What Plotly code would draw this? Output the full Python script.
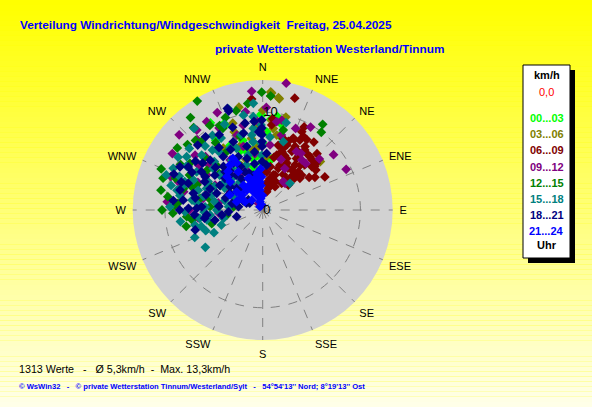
import plotly.graph_objects as go

W, H = 592, 407
def px(x): return x / W
def py(y): return 1 - y / H

# ---------------- data (direction in degrees, speed in km/h) ----------------
hour_labels = ["00...03", "03...06", "06...09", "09...12", "12...15", "15...18", "18...21", "21...24"]
hour_colors = ["#00FF00", "#808000", "#800000", "#800080", "#008000", "#008080", "#000080", "#0000FF"]

lime_dir = [359, 12.6, 329, 336, 10, 348, 331, 0.5, 18, 344, 341, 333, 349.5, 355, 358.6, 345, 5, 6.6, 358, 8.8, 19, 336.4, 359.4, 347, 333,
            352, 3, 340, 326, 12]
lime_spd = [9.8, 7.8, 10.4, 9.7, 5.3, 4.5, 4.9, 6.8, 6.8, 7.4, 8.1, 7.4, 5.3, 5.6, 8.5, 6.1, 9.3, 5.0, 4.8, 9.7, 6.1, 9.5, 9.7, 4.0, 5.2,
            7.0, 8.0, 6.5, 8.6, 9.0]

olive_dir = [4.4, 8.5, 50, 340, 340, 342, 351, 351, 4.3, 7.4, 5.7, 325, 341, 356, 334.5, 336, 327.5, 4, 3.9, 8, 10.6,
             0, 347, 355, 14, 345, 2]
olive_spd = [12.0, 11.5, 7.7, 8.5, 6.9, 5.4, 7.4, 6.2, 5.5, 8.4, 9.2, 7.7, 9.4, 6.5, 5.0, 4.5, 7.5, 11.7, 12.1, 11.6, 7.8,
             10.2, 10.8, 8.6, 9.8, 3.5, 4.0]

maroon_dir = [35, 44.4, 50, 53, 62, 43, 43, 40.7, 49.6, 48, 45.7, 27.8, 14.5, 35.4, 35.7, 25, 21, 19.4, 13, 26.4,
              33.7, 27, 18.5, 39.7, 48.8, 36, 17.6, 12.3, 16, 26.5, 26.5, 24, 28, 32, 20.5, 16, 13.5, 23, 41.6, 48.5,
              46.8, 33.3, 20.3, 20.5, 16.3, 16.8, 14.3, 36, 6, 27.2, 41, 18, 27.6, 33.7, 29, 6, 6.2, 354.3,
              30, 38, 24, 31, 22, 40, 45, 10, 12, 30, 55, 58, 8, 44, 37]
maroon_spd = [7.5, 7.2, 6.95, 6.8, 7.2, 6.3, 5.35, 4.3, 5.0, 5.35, 3.66, 2.7, 2.3, 3.35, 5.67, 5.8, 4.9, 3.8, 3.3, 6.7,
              6.6, 7.3, 6.7, 7.3, 7.25, 5.06, 3.0, 1.9, 11.9, 9.5, 8.95, 7.9, 8.1, 8.5, 7.5, 7.6, 6.8, 8.0, 7.3, 6.7,
              5.2, 6.3, 7.1, 4.55, 2.7, 3.75, 5.8, 3.6, 3.9, 5.4, 4.76, 6.3, 7.1, 7.8, 8.6, 8.75, 9.4, 11.4,
              4.2, 4.0, 3.2, 5.0, 6.0, 6.0, 4.6, 4.5, 5.5, 7.0, 5.8, 6.3, 2.8, 8.0, 8.7]

purple_dir = [10.5, 302, 64, 354.7, 34, 42.8, 36, 12, 9, 317, 313, 309, 324, 327, 347, 341, 302, 283, 281, 279, 301, 327,
              6.4, 358.5, 38, 40, 30, 339, 263, 288.5, 297.7, 280, 327, 339, 320.5, 327.6,
              293, 305, 318, 332, 350, 14, 22, 286, 270, 352, 28, 48,
              275, 290, 312, 335, 343, 356, 2, 290, 266, 310, 20, 52, 30]
purple_spd = [13.2, 10.9, 9.5, 12.2, 7.0, 6.5, 3.6, 9.4, 9.15, 9.85, 8.0, 8.9, 7.8, 6.1, 8.9, 8.1, 6.75, 8.3, 6.2, 4.6, 4.3, 4.3,
              6.7, 8.0, 6.5, 3.56, 6.9, 4.2, 6.65, 9.1, 5.5, 2.9, 0.8, 2.2, 10.6, 10.7,
              7.2, 8.0, 5.0, 9.5, 10.2, 7.9, 9.0, 6.0, 7.5, 5.8, 4.8, 7.8,
              9.8, 10.0, 11.5, 11.0, 6.8, 9.2, 10.5, 3.0, 4.5, 7.2, 5.5, 9.2, 9.8]

green_dir = [329, 281, 35, 37, 359.5, 311, 274.5, 287.7, 302.7, 318, 328, 333, 334, 343, 273.6, 255, 262, 262, 273, 291,
             305.5, 314, 328, 274, 297, 285, 4, 14.4, 295.5, 280.6,
             299, 306, 320, 290, 278, 268, 296, 312, 325, 338, 282,
             265, 258, 270, 292, 316, 322, 345, 352, 300, 288, 310, 276]
green_spd = [13.0, 10.6, 10.7, 9.96, 12.05, 10.2, 8.7, 10.7, 8.85, 9.4, 10.2, 9.7, 9.3, 7.85, 5.4, 5.4, 3.7, 7.3, 9.0, 7.2,
             7.0, 6.6, 7.0, 4.55, 3.4, 8.4, 11.7, 8.45, 8.3, 6.5,
             9.6, 10.8, 11.0, 9.5, 9.8, 9.2, 6.2, 8.0, 8.4, 10.2, 5.6,
             7.8, 8.0, 10.3, 11.2, 9.9, 12.0, 10.5, 11.0, 5.0, 7.6, 5.8, 3.0]

teal_dir = [237, 295, 320, 341.3, 355, 354.2, 15, 45.6, 312, 283, 280, 286, 268.7, 257.5, 262.5, 278, 287, 291, 286.4, 270,
            258, 275.5, 293, 309, 310, 297.5, 323, 332, 337, 340, 352, 353.4, 351.7, 359, 359, 5.7, 16.8, 323, 293.4, 290,
            250, 264.6, 273, 285, 300, 348.5, 358.9, 304, 321,
            300, 305, 292, 315, 318, 330, 326, 283, 276, 268, 260, 250, 245, 300, 310, 280,
            272, 290, 302, 310, 262, 255, 248, 284, 296, 316, 328, 345, 344, 320, 336]
teal_spd = [7.0, 10.1, 10.9, 10.9, 10.96, 9.6, 9.25, 3.9, 8.4, 9.0, 8.6, 8.6, 7.95, 7.1, 6.5, 7.3, 6.9, 6.15, 5.45, 4.7,
            4.1, 3.5, 3.1, 5.65, 6.6, 6.3, 7.5, 7.15, 6.86, 4.9, 7.05, 8.4, 7.75, 6.8, 5.6, 7.5, 7.3, 5.3, 7.7, 8.5,
            4.5, 5.4, 5.9, 9.7, 7.8, 9.9, 8.7, 4.87, 3.7,
            9.0, 9.5, 9.2, 7.0, 8.8, 8.5, 9.2, 6.2, 6.8, 6.0, 5.8, 6.2, 5.5, 4.5, 4.2, 5.0,
            9.5, 10.5, 10.2, 9.8, 8.5, 6.5, 7.5, 4.0, 5.5, 4.5, 6.0, 5.8, 8.0, 8.0, 9.6]

navy_dir = [340.8, 359.4, 359.4, 359.4, 359.4, 359.4, 359.4, 354.4, 346, 341, 322, 315, 289, 283.6, 277, 271.3, 271.5, 273,
            253.5, 265, 263, 255.5, 315.5, 317, 310, 300, 306, 292, 296, 328, 335.4, 346, 343, 335, 297.8, 305, 292.7,
            277.7, 297, 311, 290, 283.5, 289.7, 302, 313.5, 323.5, 336.7, 348.5, 4, 5, 345, 355.6, 305.5, 323, 297.6,
            298, 306, 312, 318, 325, 330, 285, 280, 270, 262, 267, 288, 300, 308, 320, 352, 350, 357,
            275, 282, 295, 310, 318, 326, 333, 340, 300, 292, 276, 266, 258, 340, 332]
navy_spd = [11.0, 9.2, 8.4, 7.7, 7.0, 6.5, 4.95, 9.1, 8.1, 10.7, 9.5, 9.4, 8.8, 8.7, 8.2, 7.6, 6.75, 6.25,
            7.2, 5.75, 4.2, 2.75, 5.5, 4.9, 5.04, 5.06, 6.05, 5.8, 6.6, 5.65, 6.0, 6.7, 5.5, 4.3, 1.5, 1.8, 1.8,
            2.5, 3.75, 2.85, 5.0, 7.3, 8.1, 7.4, 7.4, 6.8, 7.6, 9.06, 5.8, 4.6, 3.7, 3.6, 4.1, 4.46, 9.55,
            8.2, 8.5, 6.5, 6.0, 7.8, 8.9, 6.0, 7.0, 8.5, 6.0, 3.5, 4.0, 6.8, 7.8, 5.2, 6.0, 4.8, 8.0,
            4.5, 3.2, 2.2, 3.5, 3.0, 3.8, 5.0, 4.0, 8.8, 9.8, 9.2, 7.0, 5.0, 9.0, 7.0]

blue_dir = [351, 344.5, 343.6, 342, 321, 343, 333, 321, 322, 305.5, 333, 346, 350.7, 324, 330, 331, 318, 338, 312, 295,
            352, 350, 287.7, 313, 327.5, 335.6, 354.5, 349, 311, 305, 297, 294.6, 330, 345, 338,
            357, 358, 356, 359]
blue_spd = [2.9, 2.3, 1.6, 0.9, 0.44, 2.7, 2.1, 2.6, 3.2, 2.6, 2.9, 3.3, 3.8, 5.7, 6.1, 5.5, 5.3, 1.65, 1.5, 2.0,
            2.07, 1.2, 2.8, 5.0, 4.65, 3.56, 2.9, 0.52, 4.4, 3.25, 2.6, 3.7, 2.6, 3.0, 3.5,
            4.2, 3.4, 2.5, 1.5]

series = [
    (lime_dir, lime_spd), (olive_dir, olive_spd), (maroon_dir, maroon_spd), (purple_dir, purple_spd),
    (green_dir, green_spd), (teal_dir, teal_spd), (navy_dir, navy_spd), (blue_dir, blue_spd),
]

compass = ["N", "NNE", "NE", "ENE", "E", "ESE", "SE", "SSE", "S", "SSW", "SW", "WSW", "W", "WNW", "NW", "NNW"]
compass_deg = [i * 22.5 for i in range(16)]
r_max = 13.3
r_ticks = [0, 10]

title_text = "Verteilung Windrichtung/Windgeschwindigkeit  Freitag, 25.04.2025"
subtitle_text = "private Wetterstation Westerland/Tinnum"
stats_text = "1313 Werte \u00a0 - \u00a0 Ø 5,3km/h \u00a0-\u00a0 Max. 13,3km/h"
footer_text = "© WsWin32 \u00a0 - \u00a0 © private Wetterstation Tinnum/Westerland/Sylt \u00a0 - \u00a0 54°54'13'' Nord; 8°19'13'' Ost"

# ---------------- figure ----------------
fig = go.Figure()
for (d, s), col, lab in zip(series, hour_colors, hour_labels):
    fig.add_trace(go.Scatterpolar(
        theta=d, r=s, mode="markers", name=lab,
        marker=dict(symbol="diamond", size=7.5, color=col, line=dict(width=0)),
        hoverinfo="skip", showlegend=False,
    ))

shapes = []
n_bands = 80
for i in range(n_bands):
    t = i / (n_bands - 1)
    b = int(0 + 232 * t)
    shapes.append(dict(type="rect", xref="paper", yref="paper", layer="below",
                       x0=0, x1=1, y0=1 - (i + 1) / n_bands, y1=1 - i / n_bands,
                       fillcolor=f"rgb(255,255,{b})", line=dict(width=0)))
# legend box with shadow
shapes.append(dict(type="rect", xref="paper", yref="paper", x0=px(528), x1=px(575), y0=py(263), y1=py(70),
                   fillcolor="black", line=dict(width=0)))
shapes.append(dict(type="rect", xref="paper", yref="paper", x0=px(523), x1=px(570), y0=py(258), y1=py(65),
                   fillcolor="white", line=dict(color="black", width=1)))

annotations = []
def add_text(text, x, y, size, color, bold=False, xanchor="left", family="Liberation Sans, Arial"):
    annotations.append(dict(text=f"<b>{text}</b>" if bold else text, x=px(x), y=py(y), xref="paper", yref="paper",
                            xanchor=xanchor, yanchor="middle", showarrow=False,
                            font=dict(size=size, color=color, family=family)))

add_text(title_text, 18, 25, 11.8, "#0000FF", bold=True)
add_text(subtitle_text, 213, 49, 11.8, "#0000FF", bold=True)
add_text(stats_text, 17, 369, 10.7, "black")
add_text(footer_text, 17, 386, 7.6, "#0000FF", bold=True)

lx = 546.5
add_text("km/h", lx, 75, 11, "black", bold=True, xanchor="center")
add_text("0,0", lx, 92, 11, "#FF0000", xanchor="center")
for i, (lab, col) in enumerate(zip(hour_labels, hour_colors)):
    add_text(lab, lx, 118 + i * 16.2, 11, col, bold=True, xanchor="center")
add_text("Uhr", lx, 245, 11, "black", bold=True, xanchor="center")

fig.update_layout(
    width=W, height=H, margin=dict(l=0, r=0, t=0, b=0),
    paper_bgcolor="#FFFF00", plot_bgcolor="rgba(0,0,0,0)",
    shapes=shapes, annotations=annotations,
    polar=dict(
        domain=dict(x=[px(132.7), px(392.7)], y=[py(340), py(80)]),
        bgcolor="#D2D2D2",
        angularaxis=dict(rotation=90, direction="clockwise", tickmode="array",
                         tickvals=compass_deg, ticktext=compass, showline=False,
                         ticks="outside", ticklen=4, tickcolor="rgba(0,0,0,0)",
                         gridcolor="#808080", griddash="dash", gridwidth=1,
                         tickfont=dict(size=11, color="black", family="Liberation Sans, Arial")),
        radialaxis=dict(range=[0, r_max], tickmode="array", tickvals=r_ticks, ticktext=[str(v) for v in r_ticks],
                        angle=90, showline=False, ticks="", gridcolor="#808080", griddash="dash", gridwidth=1,
                        tickfont=dict(size=13, color="black", family="Liberation Sans, Arial"),
                        tickangle=90, side="clockwise"),
    ),
)

fig.write_html("out.html", config={"displayModeBar": False},
               post_script="document.body.style.margin='0px';")
